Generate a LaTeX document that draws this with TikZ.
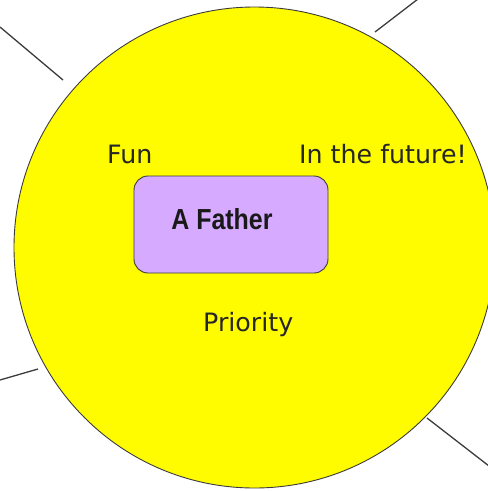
\documentclass[tikz,border=0pt]{standalone}
\usepackage{fontspec}
\setmainfont{DejaVu Sans}
\newfontfamily\boxfont[FakeStretch=0.86]{Liberation Sans}
\definecolor{sunyellow}{RGB}{255,252,0}
\definecolor{boxpurple}{RGB}{214,170,255}
\definecolor{edgegray}{RGB}{60,60,60}
\begin{document}
\begin{tikzpicture}[x=1pt,y=-1pt,
  spoke/.style={draw=edgegray,line width=1.3pt},
  label/.style={inner sep=0pt,anchor=base west,font=\fontsize{25.3}{29}\selectfont,text=black!85}]
\useasboundingbox (0,0) rectangle (488,491);
\node[circle,draw=edgegray,line width=0.9pt,fill=sunyellow,minimum size=481pt,inner sep=0pt] (sun) at (254.5,247.5) {};
\node[draw=edgegray,line width=0.9pt,fill=boxpurple,rounded corners=14pt,minimum width=194pt,minimum height=97pt,inner sep=0pt] (father) at (231,224.5) {};
\node[inner sep=0pt,anchor=base,font=\boxfont\bfseries\fontsize{29}{32}\selectfont,text=black!90] (fathertext) at (222,229) {A Father};
\node[label] (fun) at (107,163) {Fun};
\node[label] (future) at (299,163) {In the future!};
\node[label] (priority) at (203,331) {Priority};
\coordinate (tl1) at (0,27); \coordinate (tl2) at (63,80);
\coordinate (tr1) at (375,32); \coordinate (tr2) at (418,-1);
\coordinate (bl1) at (0,380); \coordinate (bl2) at (38,369);
\coordinate (br1) at (427,418); \coordinate (br2) at (489,466);
\draw[spoke] (tl1) -- (tl2);
\draw[spoke] (tr1) -- (tr2);
\draw[spoke] (bl1) -- (bl2);
\draw[spoke] (br1) -- (br2);
\end{tikzpicture}
\end{document}
